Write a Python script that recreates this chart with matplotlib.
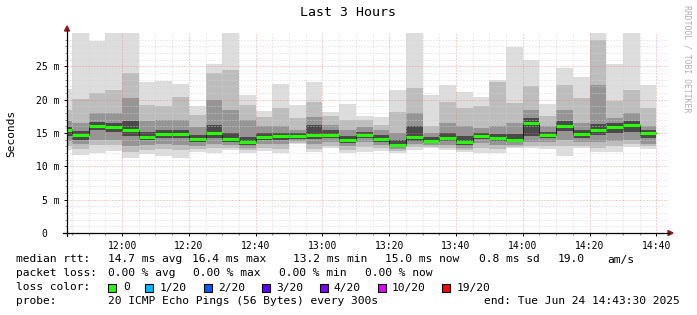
import numpy as np
import matplotlib
matplotlib.use('Agg')
import matplotlib.pyplot as plt
from matplotlib.patches import Rectangle, Polygon
from matplotlib.lines import Line2D

W, H = 697, 315
MONO = 'DejaVu Sans Mono'

# time axis in minutes after midnight, graph 11:43:30 - 14:43:30, rrd step 5 min
t_start = 11 * 60 + 43.5
t_stop = 14 * 60 + 43.5
t_end = np.arange(705, 881, 5)          # end of each 5 minute step
xtick_pos = np.arange(720, 881, 20)
xtick_labels = ['12:00', '12:20', '12:40', '13:00', '13:20', '13:40', '14:00', '14:20', '14:40']
ytick_pos = [0, 5, 10, 15, 20, 25]
ytick_labels = ['0  ', '5 m', '10 m', '15 m', '20 m', '25 m']

# smoke, ms (sorted pings: outer -> inner bands)
rtt_max = [21.6, 31.0, 28.8, 31.0, 34.0, 22.7, 22.8, 22.3, 19.0, 25.3, 31.0, 20.7,
           18.3, 22.3, 19.2, 22.7, 18.2, 19.3, 17.5, 17.35, 21.5, 31.0, 20.7, 22.15,
           21.15, 20.35, 22.95, 27.95, 25.95, 19.3, 24.8, 23.35, 32.0, 25.35, 31.0, 22.2]
hi_b = [18.4, 20.1, 21.0, 21.5, 24.0, 19.2, 19.0, 20.4, 17.7, 24.0, 24.4, 19.2,
        17.4, 18.7, 17.3, 19.7, 17.6, 17.0, 16.9, 16.2, 18.2, 21.7, 16.0, 19.7,
        18.7, 19.0, 22.6, 19.5, 22.0, 17.5, 22.2, 20.2, 29.0, 19.8, 21.4, 18.7]
hi_c = [16.8, 16.5, 18.0, 18.0, 20.2, 16.8, 16.9, 17.0, 15.9, 20.0, 18.4, 17.0,
        16.0, 16.0, 15.5, 17.4, 16.2, 15.4, 15.9, 15.4, 15.0, 18.0, 15.0, 16.5,
        16.0, 15.8, 16.0, 16.5, 18.4, 16.0, 18.4, 16.5, 22.2, 17.2, 18.0, 16.0]
hi_d = [15.9, 15.3, 16.6, 16.5, 16.8, 15.2, 15.4, 15.4, 14.7, 16.2, 15.0, 14.4,
        15.0, 15.0, 15.0, 16.2, 15.4, 14.6, 15.2, 14.7, 14.0, 16.0, 14.4, 15.0,
        14.5, 15.0, 14.8, 14.8, 17.2, 15.2, 16.8, 15.4, 16.4, 16.5, 16.8, 15.5]
median = [15.4, 14.65, 16.0, 15.9, 15.45, 14.45, 14.8, 14.85, 14.15, 15.05, 14.15, 13.65,
          14.35, 14.55, 14.5, 14.7, 14.7, 13.95, 14.65, 14.15, 13.25, 14.35, 13.85, 14.3,
          13.65, 14.55, 14.2, 13.95, 16.45, 14.65, 16.05, 14.85, 15.45, 15.95, 16.2, 15.05]
lo_d = [14.6, 14.0, 15.4, 15.2, 14.6, 13.9, 14.2, 14.2, 13.7, 14.3, 13.7, 13.2,
        13.9, 14.0, 14.1, 14.1, 14.2, 13.5, 14.2, 13.7, 12.9, 13.8, 13.5, 13.8,
        13.2, 14.1, 13.8, 13.6, 14.5, 14.2, 15.3, 14.3, 14.7, 15.0, 15.2, 14.2]
lo_c = [13.8, 13.3, 14.0, 14.0, 13.0, 13.2, 13.4, 13.2, 13.1, 13.4, 13.2, 12.8,
        13.3, 13.3, 13.8, 13.3, 13.6, 13.0, 13.6, 13.2, 12.6, 13.3, 13.2, 13.2,
        12.8, 13.5, 13.2, 13.2, 13.6, 13.6, 14.0, 13.6, 13.6, 13.8, 14.0, 13.4]
lo_b = [13.0, 12.6, 13.2, 13.2, 12.2, 12.5, 12.6, 12.4, 12.6, 12.7, 12.8, 12.4,
        12.7, 12.6, 13.5, 12.6, 13.1, 12.4, 12.9, 12.8, 12.3, 12.9, 12.9, 12.8,
        12.4, 12.8, 12.6, 12.9, 13.1, 13.0, 13.0, 13.1, 12.8, 13.0, 13.3, 13.0]
rtt_min = [12.4, 11.7, 12.0, 12.3, 11.3, 11.85, 11.6, 11.3, 12.1, 12.0, 12.45, 12.0,
           12.3, 12.0, 13.35, 12.1, 12.7, 11.95, 12.1, 12.3, 11.95, 12.45, 12.7, 12.45,
           12.1, 12.05, 12.05, 12.7, 12.7, 12.6, 11.6, 12.7, 12.1, 12.1, 12.95, 12.6]

loss_labels = ['0', '1/20', '2/20', '3/20', '4/20', '10/20', '19/20']
loss_colors = ['#26ff00', '#00b8ff', '#0059ff', '#5e00ff', '#7e00ff', '#dd00ff', '#ff0000']


def fx(x):
    return x / W


def fy(y):
    return 1 - y / H


fig = plt.figure(figsize=(W / 100, H / 100), dpi=100)
fig.patch.set_facecolor('white')
ax = fig.add_axes([fx(67), fy(233), 601 / W, 200 / H])

left = np.r_[t_start, t_end[:-1]]
widths = t_end - left

bands = [(rtt_min, rtt_max, '#dddddd'),
         (lo_b, hi_b, '#bdbdbd'),
         (lo_c, hi_c, '#959595'),
         (lo_d, hi_d, '#4a4a4a')]
for lo, hi, col in bands:
    lo = np.array(lo)
    hi = np.array(hi)
    ax.bar(left, hi - lo, bottom=lo, width=widths, align='edge', color=col,
           linewidth=0, antialiased=False, zorder=1)

ax.step(np.r_[left, t_end[-1]], np.r_[median, median[-1]], where='post',
        color='#202020', lw=0.7, zorder=3)
ax.hlines(median, left, t_end, colors=loss_colors[0], lw=2.2, zorder=4)

ax.set_xlim(t_start, t_stop)
ax.set_ylim(0, 30)
ax.set_xticks(xtick_pos)
ax.set_xticklabels(xtick_labels, fontsize=7, family=MONO)
ax.set_xticks(np.arange(705, 885, 5), minor=True)
ax.set_yticks(ytick_pos)
ax.set_yticklabels(ytick_labels, fontsize=7, family=MONO)
ax.set_yticks(np.arange(0, 30, 1), minor=True)
ax.tick_params(which='major', length=2.5, width=0.7, pad=3, colors='black')
ax.tick_params(which='minor', length=1.5, width=0.7, colors='#888888')
ax.set_axisbelow(False)
ax.grid(which='minor', color='#d4d4d4', alpha=0.85, ls=(0, (1, 2)), lw=0.72)
ax.grid(which='major', color='#e08080', alpha=0.7, ls=(0, (1, 2)), lw=0.72)
for s in ax.spines.values():
    s.set_visible(False)
ax.set_facecolor('white')

# axes lines with arrows
fig.add_artist(Line2D([fx(63), fx(669)], [fy(233), fy(233)], color='black', lw=0.9))
fig.add_artist(Line2D([fx(67), fx(67)], [fy(236), fy(30)], color='black', lw=0.9))
fig.add_artist(Polygon([(fx(64.5), fy(31)), (fx(69.5), fy(31)), (fx(67), fy(26))],
                       closed=True, color='#901818', transform=fig.transFigure))
fig.add_artist(Polygon([(fx(668), fy(230.5)), (fx(668), fy(235.5)), (fx(673), fy(233))],
                       closed=True, color='#901818', transform=fig.transFigure))

fig.text(fx(348), fy(13), 'Last 3 Hours', ha='center', va='center', fontsize=9.5, family=MONO)
fig.text(fx(11), fy(133), 'Seconds', ha='center', va='center', rotation=90,
         fontsize=8, family=MONO)
fig.text(fx(687), fy(5), 'RRDTOOL / TOBI OETIKER', ha='center', va='top', rotation=270,
         fontsize=5.9, family=MONO, color='#b0b0b0')

fs = 8.1
rows = [
    (259.5, [(16, 'median rtt:'), (107.6, '14.7 ms avg'), (192.4, '16.4 ms max'),
             (292.9, '13.2 ms min'), (384.9, '15.0 ms now'), (479.1, '0.8 ms sd'),
             (557.8, '19.0'), (607.1, 'am/s')]),
    (273.5, [(16, 'packet loss:'), (107.6, '0.00 % avg'), (192.9, '0.00 % max'),
             (279.1, '0.00 % min'), (364.9, '0.00 % now')]),
    (287.5, [(16, 'loss color:')]),
    (301.5, [(16, 'probe:'), (107.6, '20 ICMP Echo Pings (56 Bytes) every 300s')]),
]
for y, items in rows:
    for x, s in items:
        fig.text(fx(x), fy(y), s, ha='left', va='center', fontsize=fs, family=MONO)
fig.text(fx(680), fy(301.5), 'end: Tue Jun 24 14:43:30 2025', ha='right', va='center',
         fontsize=fs, family=MONO)

box_x = [108, 145.3, 204, 261.8, 319.6, 377.8, 442.2]
lab_x = [123, 160, 218.2, 276, 333.8, 392, 456.9]
for bx, lx, lab, col in zip(box_x, lab_x, loss_labels, loss_colors):
    fig.add_artist(Rectangle((fx(bx), fy(291.5)), 8 / W, 8 / H, facecolor=col,
                             edgecolor='black', lw=0.8, transform=fig.transFigure))
    fig.text(fx(lx), fy(287.5), lab, ha='left', va='center', fontsize=fs, family=MONO)

fig.savefig('out.png', dpi=100, facecolor='white')
